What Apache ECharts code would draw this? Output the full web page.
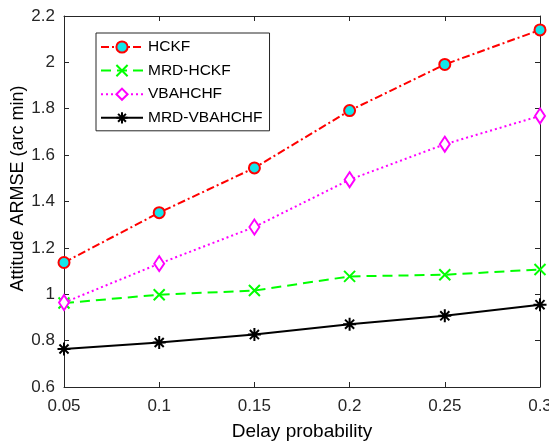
<!DOCTYPE html>
<html>
<head>
<meta charset="utf-8">
<script src="https://cdn.jsdelivr.net/npm/echarts@6/dist/echarts.min.js"></script>
<style>html,body{margin:0;padding:0;background:#fff;}#c{width:549px;height:444px;}</style>
</head>
<body>
<div id="c"></div>
<script>
var categories = ['0.05', '0.1', '0.15', '0.2', '0.25', '0.3'];
var yTicks = [0.6, 0.8, 1, 1.2, 1.4, 1.6, 1.8, 2, 2.2];
var hckf = [1.137, 1.352, 1.545, 1.792, 1.991, 2.140];
var mrdHckf = [0.962, 0.998, 1.016, 1.077, 1.084, 1.107];
var vbahchf = [0.964, 1.132, 1.290, 1.494, 1.647, 1.769];
var mrdVbahchf = [0.764, 0.792, 0.826, 0.871, 0.907, 0.955];

var FONT = 'Liberation Sans, Arial, sans-serif';
var AX = '#262626';
var xShape = 'path://M0,0L10,10M10,0L0,10';
var star = 'path://M5,0L5,10M0,5L10,5M1.5,1.5L8.5,8.5M8.5,1.5L1.5,8.5';

var chart = echarts.init(document.getElementById('c'), null, {renderer: 'canvas'});
var fmtY = function (v) { return String(parseFloat(v.toFixed(2))); };
chart.setOption({
  animation: false,
  backgroundColor: '#fff',
  grid: {left: 64, right: 9, top: 16, bottom: 57, containLabel: false, outerBoundsMode: 'none'},
  legend: {
    left: 96, top: 33, orient: 'vertical',
    itemWidth: 42, itemHeight: 14, itemGap: 7.6,
    padding: [6, 7, 5, 4],
    borderColor: AX, borderWidth: 1, backgroundColor: '#fff',
    textStyle: {fontFamily: FONT, fontSize: 15.5, color: '#000'},
    data: ['HCKF', 'MRD-HCKF', 'VBAHCHF', 'MRD-VBAHCHF']
  },
  xAxis: [{
    type: 'category', data: categories, boundaryGap: false, position: 'bottom',
    name: 'Delay probability', nameLocation: 'middle', nameGap: 35, nameMoveOverlap: false,
    nameTextStyle: {fontFamily: FONT, fontSize: 19, color: '#000'},
    axisLine: {lineStyle: {color: AX, width: 1}},
    axisTick: {inside: true, length: 5, lineStyle: {color: AX}, alignWithLabel: true},
    axisLabel: {fontFamily: FONT, fontSize: 17, color: '#262626', margin: 11, alignMaxLabel: 'center', alignMinLabel: 'center'},
    splitLine: {show: false}
  }, {
    type: 'category', data: categories, boundaryGap: false, position: 'top',
    axisLine: {lineStyle: {color: AX, width: 1}},
    axisTick: {inside: true, length: 5, lineStyle: {color: AX}},
    axisLabel: {show: false}, splitLine: {show: false}
  }],
  yAxis: [{
    type: 'value', min: yTicks[0], max: yTicks[yTicks.length - 1], interval: 0.2,
    name: 'Attitude ARMSE (arc min)', nameLocation: 'middle', nameGap: 37, nameMoveOverlap: false,
    nameTextStyle: {fontFamily: FONT, fontSize: 18, color: '#000', padding: [0, 0, 0, 26]},
    axisLine: {show: true, lineStyle: {color: AX, width: 1}},
    axisTick: {show: true, inside: true, length: 5, lineStyle: {color: AX}},
    axisLabel: {fontFamily: FONT, fontSize: 17, color: '#262626', margin: 9, formatter: fmtY},
    splitLine: {show: false}
  }, {
    type: 'value', min: yTicks[0], max: yTicks[yTicks.length - 1], interval: 0.2, position: 'right',
    axisLine: {show: true, lineStyle: {color: AX, width: 1}},
    axisTick: {show: true, inside: true, length: 5, lineStyle: {color: AX}},
    axisLabel: {show: false}, splitLine: {show: false}
  }],
  series: [{
    name: 'HCKF', type: 'line', data: hckf,
    symbol: 'circle', symbolSize: 11,
    lineStyle: {color: '#ff0000', width: 2, type: [8, 3, 2, 3]},
    itemStyle: {color: '#14e6ea', borderColor: '#ff0000', borderWidth: 2}
  }, {
    name: 'MRD-HCKF', type: 'line', data: mrdHckf,
    symbol: xShape, symbolSize: 11,
    lineStyle: {color: '#00ff00', width: 2, type: [10, 6]},
    itemStyle: {color: 'rgba(0,0,0,0)', borderColor: '#00ff00', borderWidth: 2}
  }, {
    name: 'VBAHCHF', type: 'line', data: vbahchf,
    symbol: 'diamond', symbolSize: [10, 15],
    lineStyle: {color: '#ff00ff', width: 2, type: [2, 3]},
    itemStyle: {color: '#ffffff', borderColor: '#ff00ff', borderWidth: 2}
  }, {
    name: 'MRD-VBAHCHF', type: 'line', data: mrdVbahchf,
    symbol: star, symbolSize: 13,
    lineStyle: {color: '#000000', width: 2, type: 'solid'},
    itemStyle: {color: 'rgba(0,0,0,0)', borderColor: '#000000', borderWidth: 2}
  }]
});
</script>
</body>
</html>
